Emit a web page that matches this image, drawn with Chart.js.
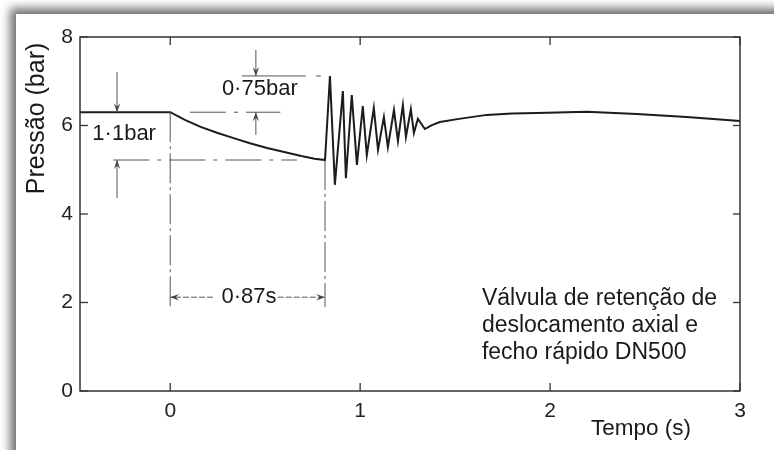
<!DOCTYPE html>
<html lang="pt">
<head>
<meta charset="utf-8">
<script src="https://cdn.jsdelivr.net/npm/chart.js@4/dist/chart.umd.min.js"></script>
<style>
  body { margin: 0; overflow: hidden; background: #fff; }
  #fundo { position: relative; width: 774px; height: 450px; overflow: hidden; background: #fff; }
  #cartao { position: absolute; left: 16px; top: 14px; width: 800px; height: 480px; background: #fff;
            box-shadow: -5px -5px 9px 1px rgba(0, 0, 0, 0.55); }
  #caixa { position: absolute; left: 16px; top: 14px; width: 758px; height: 436px; }
</style>
</head>
<body>
<div id="fundo">
  <div id="cartao"></div>
  <div id="caixa"><canvas id="grafico"></canvas></div>
</div>
<script>
// Tempo (s) e pressão (bar)
const tempo = [-0.475, 0.0, 0.08, 0.16, 0.25, 0.33, 0.42, 0.51, 0.60, 0.69, 0.76, 0.815,
  0.841, 0.867, 0.909, 0.925, 0.956, 0.983, 1.014, 1.035, 1.072, 1.094, 1.125, 1.146,
  1.178, 1.199, 1.225, 1.241, 1.267, 1.283, 1.304, 1.341, 1.378, 1.42, 1.52, 1.667,
  1.80, 1.93, 2.193, 2.456, 2.719, 3.0];
const pressao = [6.30, 6.30, 6.12, 5.97, 5.83, 5.72, 5.60, 5.49, 5.40, 5.31, 5.25, 5.22,
  7.12, 4.66, 6.78, 4.81, 6.69, 5.11, 6.44, 5.33, 6.40, 5.45, 6.19, 5.51,
  6.35, 5.65, 6.46, 5.74, 6.37, 5.83, 6.15, 5.92, 6.01, 6.08, 6.15, 6.24,
  6.27, 6.28, 6.31, 6.26, 6.19, 6.10];

const ticksX = [0, 1, 2, 3];
const ticksY = [0, 2, 4, 6, 8];

const textoValvula = ['Válvula de retenção de', 'deslocamento axial e', 'fecho rápido DN500'];
const rotuloDp = '1·1bar';
const rotuloSobre = '0·75bar';
const rotuloTempo = '0·87s';

const fonte = "'Liberation Sans', Arial, sans-serif";
Chart.defaults.font.family = fonte;
Chart.defaults.color = '#222';

// pontos notáveis tirados dos próprios dados
const tFecho = 0.815;
const pInicial = pressao[0];
const pMinimo = pressao[tempo.indexOf(tFecho)];
const pPico = Math.max(...pressao);

function linha(ctx, x1, y1, x2, y2, tracejado) {
  ctx.setLineDash(tracejado || []);
  ctx.beginPath();
  ctx.moveTo(x1, y1);
  ctx.lineTo(x2, y2);
  ctx.stroke();
  ctx.setLineDash([]);
}

// seta de (x1,y1) até (x2,y2), ponta no fim
function seta(ctx, x1, y1, x2, y2, tracejado) {
  linha(ctx, x1, y1, x2, y2, tracejado);
  const ang = Math.atan2(y2 - y1, x2 - x1);
  const c = 9, l = 3.2;
  ctx.beginPath();
  ctx.moveTo(x2, y2);
  ctx.lineTo(x2 - c * Math.cos(ang) + l * Math.sin(ang), y2 - c * Math.sin(ang) - l * Math.cos(ang));
  ctx.lineTo(x2 - c * 0.6 * Math.cos(ang), y2 - c * 0.6 * Math.sin(ang));
  ctx.lineTo(x2 - c * Math.cos(ang) - l * Math.sin(ang), y2 - c * Math.sin(ang) + l * Math.cos(ang));
  ctx.closePath();
  ctx.fill();
}

const anotacoes = {
  id: 'anotacoes',
  afterDraw(chart) {
    const { ctx, chartArea: a, scales: { x, y } } = chart;
    const px = v => x.getPixelForValue(v);
    const py = v => y.getPixelForValue(v);
    ctx.save();

    // moldura e marcas para dentro
    ctx.strokeStyle = '#333';
    ctx.lineWidth = 1.5;
    ctx.strokeRect(a.left, a.top, a.right - a.left, a.bottom - a.top);
    ctx.lineWidth = 1.3;
    ticksX.forEach(v => {
      linha(ctx, px(v), a.bottom, px(v), a.bottom - 8);
      linha(ctx, px(v), a.top, px(v), a.top + 8);
    });
    ticksY.forEach(v => {
      linha(ctx, a.left, py(v), a.left + 8, py(v));
      linha(ctx, a.right, py(v), a.right - 7, py(v));
    });

    ctx.strokeStyle = '#555';
    ctx.fillStyle = '#444';
    ctx.lineWidth = 1;
    const traco = [36, 8, 4, 8];

    // 1·1bar
    const xa = px(-0.28);
    seta(ctx, xa, py(7.21), xa, py(pInicial));
    seta(ctx, xa, py(4.36), xa, py(pMinimo));
    linha(ctx, px(-0.30), py(pMinimo), px(0.667), py(pMinimo), traco);

    // 0·75bar
    const xb = px(0.451);
    seta(ctx, xb, py(7.71), xb, py(pPico));
    seta(ctx, xb, py(5.79), xb, py(pInicial));
    linha(ctx, px(0.377), py(pPico), px(0.80), py(pPico), [64, 10, 5, 10]);
    linha(ctx, px(0.104), py(pInicial), px(0.58), py(pInicial), traco);

    // 0·87s
    linha(ctx, px(0), py(pInicial), px(0), py(1.90), [30, 4, 3, 4]);
    linha(ctx, px(tFecho), py(pMinimo), px(tFecho), py(1.90), [30, 4, 3, 4]);
    const ys = py(2.12);
    seta(ctx, px(0.225), ys, px(0), ys, [6, 2]);
    seta(ctx, px(0.566), ys, px(tFecho), ys, [6, 2]);

    // textos
    ctx.fillStyle = '#1a1a1a';
    ctx.font = '22px ' + fonte;
    ctx.textBaseline = 'middle';
    ctx.textAlign = 'left';
    ctx.fillText(rotuloDp, px(-0.41), py(5.81));
    ctx.fillText(rotuloSobre, px(0.272), py(6.82));
    ctx.textAlign = 'center';
    ctx.fillText(rotuloTempo, px(0.415), ys);

    ctx.textAlign = 'left';
    ctx.textBaseline = 'alphabetic';
    ctx.font = '23px ' + fonte;
    textoValvula.forEach((t, i) => ctx.fillText(t, px(1.641), py(1.94) + i * 27));

    ctx.font = '22.5px ' + fonte;
    ctx.fillText('Tempo (s)', px(2.215), a.bottom + 44);

    ctx.translate(21, py(6.16));
    ctx.rotate(-Math.PI / 2);
    ctx.textAlign = 'center';
    ctx.textBaseline = 'middle';
    ctx.font = '25px ' + fonte;
    ctx.fillText('Pressão (bar)', 0, 0);
    ctx.restore();
  }
};

new Chart(document.getElementById('grafico'), {
  type: 'line',
  data: {
    datasets: [{
      label: 'Pressão',
      data: tempo.map((t, i) => ({ x: t, y: pressao[i] })),
      borderColor: '#1c1c1c',
      borderWidth: 2,
      pointRadius: 0,
      tension: 0,
      fill: false
    }]
  },
  options: {
    responsive: true,
    maintainAspectRatio: false,
    animation: false,
    layout: { padding: { top: 23, right: 34, left: 0, bottom: 0 } },
    plugins: { legend: { display: false }, tooltip: { enabled: false } },
    scales: {
      x: {
        type: 'linear',
        min: -0.475,
        max: 3,
        afterBuildTicks: s => { s.ticks = ticksX.map(v => ({ value: v })); },
        afterFit: s => { s.height = 59; },
        grid: { display: false, drawTicks: false },
        border: { display: false },
        ticks: { padding: 8, font: { size: 21 }, color: '#222', maxRotation: 0 }
      },
      y: {
        min: 0,
        max: 8,
        afterBuildTicks: s => { s.ticks = ticksY.map(v => ({ value: v })); },
        afterFit: s => { s.width = 64; },
        grid: { display: false, drawTicks: false },
        border: { display: false },
        ticks: { padding: 7, font: { size: 21 }, color: '#222' }
      }
    }
  },
  plugins: [anotacoes]
});
</script>
</body>
</html>
